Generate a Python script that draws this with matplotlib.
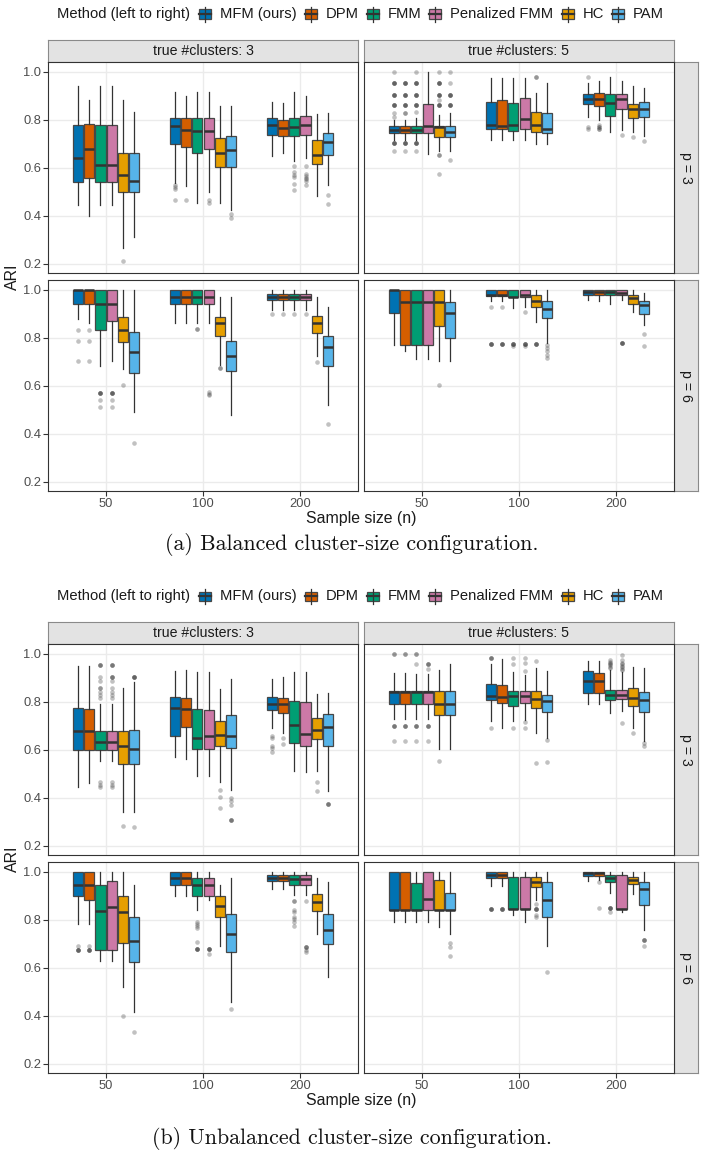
import matplotlib
matplotlib.use("Agg")
import matplotlib.pyplot as plt
from matplotlib.patches import Rectangle
from matplotlib.lines import Line2D

plt.rcParams['font.family'] = ['Liberation Sans', 'DejaVu Sans']

# ---------------- data ----------------
methods = ["MFM (ours)", "DPM", "FMM", "Penalized FMM", "HC", "PAM"]
colors = ["#0072B2", "#D55E00", "#009E73", "#CC79A7", "#E69F00", "#56B4E9"]
sizes = ["50", "100", "200"]
y_ticks = [0.2, 0.4, 0.6, 0.8, 1.0]

# each row: (lower whisker, q1, median, q3, upper whisker); n=50 x6, n=100 x6, n=200 x6
# fliers keyed by (sample size index, method index); repeats = overlapping points

# (a) balanced, true clusters 3, p = 3
bal_k3_p3 = [
    (0.443, 0.539, 0.641, 0.777, 0.940), (0.400, 0.559, 0.680, 0.782, 0.883),
    (0.443, 0.539, 0.610, 0.777, 0.940), (0.443, 0.539, 0.610, 0.777, 0.940),
    (0.268, 0.498, 0.569, 0.660, 0.883), (0.310, 0.498, 0.546, 0.660, 0.833),
    (0.538, 0.698, 0.772, 0.808, 0.914), (0.524, 0.686, 0.758, 0.805, 0.897),
    (0.455, 0.660, 0.751, 0.805, 0.914), (0.500, 0.676, 0.752, 0.805, 0.914),
    (0.455, 0.603, 0.663, 0.723, 0.857), (0.423, 0.603, 0.673, 0.730, 0.857),
    (0.649, 0.738, 0.776, 0.808, 0.873), (0.662, 0.733, 0.765, 0.797, 0.869),
    (0.627, 0.730, 0.770, 0.808, 0.914), (0.641, 0.736, 0.777, 0.816, 0.897),
    (0.482, 0.615, 0.652, 0.715, 0.823), (0.530, 0.654, 0.708, 0.744, 0.829),
]
bal_k3_p3_out = {
    (0, 4): [0.211],
    (1, 0): [0.527, 0.520, 0.510, 0.464], (1, 1): [0.464],
    (1, 3): [0.464, 0.455], (1, 5): [0.409, 0.390],
    (2, 2): [0.609, 0.583, 0.569, 0.560, 0.533, 0.509],
    (2, 3): [0.608, 0.574, 0.566, 0.559, 0.552, 0.544, 0.527],
    (2, 5): [0.485, 0.449],
}

# (a) balanced, true clusters 5, p = 3
bal_k5_p3 = [
    (0.717, 0.745, 0.757, 0.773, 0.798), (0.717, 0.745, 0.757, 0.773, 0.798),
    (0.717, 0.745, 0.757, 0.773, 0.808), (0.659, 0.745, 0.773, 0.864, 1.000),
    (0.670, 0.726, 0.770, 0.773, 0.818), (0.670, 0.726, 0.749, 0.773, 0.829),
    (0.715, 0.763, 0.777, 0.875, 0.975), (0.715, 0.763, 0.773, 0.882, 0.975),
    (0.715, 0.754, 0.777, 0.871, 0.975), (0.715, 0.763, 0.801, 0.889, 0.975),
    (0.697, 0.750, 0.777, 0.830, 0.910), (0.698, 0.744, 0.763, 0.829, 0.951),
    (0.812, 0.865, 0.885, 0.905, 0.951), (0.798, 0.858, 0.885, 0.910, 0.962),
    (0.750, 0.816, 0.868, 0.905, 0.976), (0.757, 0.843, 0.886, 0.908, 0.962),
    (0.747, 0.809, 0.844, 0.865, 0.940), (0.733, 0.812, 0.844, 0.875, 0.930),
]
bal_k5_p3_out = {
    (0, 0): [1.0] + [0.951] * 4 + [0.901] * 4 + [0.861] * 4 + [0.826, 0.812] + [0.704] * 4 + [0.670],
    (0, 1): [0.951] * 4 + [0.901] * 4 + [0.861] * 4 + [0.826] * 2 + [0.704] * 4 + [0.670],
    (0, 2): [1.0] + [0.951] * 4 + [0.901] * 4 + [0.861] * 4 + [0.830] + [0.704] * 4 + [0.670],
    (0, 4): [1.0] + [0.951] * 4 + [0.901] * 4 + [0.880] + [0.861] * 4 + [0.652] * 2 + [0.576],
    (0, 5): [1.0, 0.951] + [0.901] * 4 + [0.861] * 4 + [0.634],
    (1, 4): [0.976] * 2,
    (2, 0): [0.976, 0.770, 0.760],
    (2, 1): [0.777, 0.770, 0.770, 0.760, 0.760],
    (2, 3): [0.736], (2, 4): [0.726], (2, 5): [0.712],
}

# (a) balanced, true clusters 3, p = 6
bal_k3_p6 = [
    (0.878, 0.940, 1.000, 1.000, 1.000), (0.862, 0.940, 1.000, 1.000, 1.000),
    (0.683, 0.833, 0.940, 1.000, 1.000), (0.704, 0.871, 0.940, 1.000, 1.000),
    (0.671, 0.782, 0.833, 0.885, 1.000), (0.489, 0.651, 0.740, 0.824, 1.000),
    (0.861, 0.940, 0.971, 1.000, 1.000), (0.861, 0.940, 0.971, 1.000, 1.000),
    (0.861, 0.940, 0.971, 1.000, 1.000), (0.861, 0.940, 0.971, 1.000, 1.000),
    (0.688, 0.806, 0.860, 0.885, 0.968), (0.479, 0.660, 0.725, 0.787, 0.968),
    (0.917, 0.956, 0.971, 0.983, 1.000), (0.917, 0.956, 0.971, 0.983, 1.000),
    (0.917, 0.956, 0.971, 0.983, 1.000), (0.917, 0.956, 0.971, 0.983, 1.000),
    (0.722, 0.819, 0.860, 0.889, 0.968), (0.521, 0.681, 0.760, 0.806, 0.926),
]
bal_k3_p6_out = {
    (0, 0): [0.833, 0.785, 0.704], (0, 1): [0.833, 0.785, 0.704],
    (0, 2): [0.569] * 4 + [0.539, 0.511], (0, 3): [0.569] * 4 + [0.539, 0.511],
    (0, 4): [0.604], (0, 5): [0.361],
    (1, 2): [0.836] * 2, (1, 3): [0.576, 0.567, 0.560], (1, 4): [0.674] * 2,
    (2, 0): [0.900], (2, 1): [0.900], (2, 2): [0.900], (2, 3): [0.900],
    (2, 4): [0.699], (2, 5): [0.442],
}

# (a) balanced, true clusters 5, p = 6
bal_k5_p6 = [
    (0.768, 0.901, 1.000, 1.000, 1.000), (0.743, 0.768, 0.949, 1.000, 1.000),
    (0.711, 0.768, 0.949, 1.000, 1.000), (0.711, 0.768, 0.949, 1.000, 1.000),
    (0.704, 0.847, 0.949, 1.000, 1.000), (0.704, 0.799, 0.901, 0.949, 1.000),
    (0.951, 0.972, 0.976, 1.000, 1.000), (0.951, 0.972, 0.976, 1.000, 1.000),
    (0.924, 0.968, 0.971, 1.000, 1.000), (0.928, 0.968, 0.976, 1.000, 1.000),
    (0.864, 0.926, 0.951, 0.976, 1.000), (0.778, 0.882, 0.918, 0.951, 1.000),
    (0.956, 0.976, 0.989, 1.000, 1.000), (0.951, 0.976, 0.989, 1.000, 1.000),
    (0.940, 0.976, 0.989, 1.000, 1.000), (0.956, 0.976, 0.987, 1.000, 1.000),
    (0.907, 0.940, 0.965, 0.976, 1.000), (0.854, 0.899, 0.938, 0.953, 0.986),
]
bal_k5_p6_out = {
    (0, 4): [0.604],
    (1, 0): [0.928] + [0.775] * 4, (1, 1): [0.928] + [0.775] * 4,
    (1, 2): [0.775] * 4 + [0.764], (1, 3): [0.906] + [0.775] * 4 + [0.764],
    (1, 4): [0.775] * 4, (1, 5): [0.771, 0.757, 0.743, 0.729, 0.715],
    (2, 3): [0.778] * 4, (2, 5): [0.815, 0.765],
}

# (b) unbalanced, true clusters 3, p = 3
unb_k3_p3 = [
    (0.443, 0.601, 0.680, 0.775, 0.949), (0.462, 0.601, 0.680, 0.770, 0.949),
    (0.552, 0.601, 0.631, 0.677, 0.789), (0.552, 0.601, 0.631, 0.677, 0.789),
    (0.339, 0.541, 0.615, 0.677, 0.857), (0.342, 0.541, 0.603, 0.683, 0.882),
    (0.569, 0.656, 0.775, 0.819, 0.926), (0.562, 0.694, 0.770, 0.815, 0.933),
    (0.492, 0.603, 0.649, 0.768, 0.923), (0.492, 0.603, 0.659, 0.766, 0.923),
    (0.467, 0.615, 0.662, 0.718, 0.851), (0.432, 0.608, 0.658, 0.743, 0.893),
    (0.690, 0.766, 0.791, 0.819, 0.893), (0.670, 0.754, 0.789, 0.815, 0.903),
    (0.513, 0.627, 0.705, 0.801, 0.923), (0.506, 0.615, 0.666, 0.798, 0.923),
    (0.513, 0.645, 0.684, 0.731, 0.833), (0.430, 0.615, 0.693, 0.747, 0.836),
]
unb_k3_p3_out = {
    (0, 2): [0.951] * 3 + [0.903, 0.885, 0.857, 0.857, 0.840, 0.826, 0.815, 0.467, 0.454, 0.443],
    (0, 3): [0.951] * 3 + [0.903] * 3 + [0.885, 0.857, 0.840, 0.826, 0.815, 0.467, 0.454, 0.443],
    (0, 4): [0.283], (0, 5): [0.903] * 4 + [0.277],
    (1, 4): [0.434, 0.402, 0.356], (1, 5): [0.398, 0.385, 0.370] + [0.307] * 3,
    (2, 0): [0.659, 0.649, 0.615, 0.606, 0.590], (2, 1): [0.648, 0.624],
    (2, 4): [0.467, 0.427], (2, 5): [0.374] * 3,
}

# (b) unbalanced, true clusters 5, p = 3
unb_k5_p3 = [
    (0.726, 0.789, 0.840, 0.843, 0.919), (0.726, 0.789, 0.840, 0.843, 0.919),
    (0.726, 0.789, 0.840, 0.843, 0.917), (0.726, 0.789, 0.840, 0.843, 0.917),
    (0.603, 0.743, 0.791, 0.843, 0.933), (0.603, 0.743, 0.789, 0.843, 0.958),
    (0.719, 0.805, 0.822, 0.872, 0.958), (0.690, 0.795, 0.819, 0.868, 0.979),
    (0.718, 0.784, 0.822, 0.844, 0.923), (0.722, 0.795, 0.823, 0.844, 0.910),
    (0.669, 0.773, 0.812, 0.844, 0.940), (0.649, 0.757, 0.801, 0.826, 0.926),
    (0.789, 0.836, 0.887, 0.926, 0.968), (0.791, 0.836, 0.887, 0.918, 0.968),
    (0.754, 0.809, 0.829, 0.847, 0.930), (0.763, 0.812, 0.829, 0.847, 0.923),
    (0.691, 0.780, 0.816, 0.855, 0.944), (0.638, 0.757, 0.805, 0.840, 0.940),
]
unb_k5_p3_out = {
    (0, 0): [1.0] * 2 + [0.698] * 3 + [0.638], (0, 1): [1.0] * 2 + [0.698] * 3 + [0.638],
    (0, 2): [1.0] * 2 + [0.958] + [0.698] * 3 + [0.638],
    (0, 3): [0.958] * 3 + [0.937] + [0.698] * 3 + [0.638],
    (0, 4): [0.553],
    (1, 0): [0.982] * 3 + [0.690], (1, 2): [0.982, 0.958, 0.690],
    (1, 3): [0.982, 0.960, 0.926, 0.715, 0.690], (1, 4): [0.969, 0.545],
    (1, 5): [0.642, 0.551],
    (2, 2): [0.972, 0.966, 0.962, 0.955, 0.951, 0.945, 0.940],
    (2, 3): [0.993, 0.972, 0.962, 0.955, 0.948, 0.944, 0.937, 0.930, 0.711],
    (2, 4): [0.669], (2, 5): [0.628, 0.615],
}

# (b) unbalanced, true clusters 3, p = 6
unb_k3_p6 = [
    (0.782, 0.897, 0.946, 1.000, 1.000), (0.782, 0.882, 0.946, 1.000, 1.000),
    (0.626, 0.674, 0.838, 0.946, 1.000), (0.626, 0.674, 0.854, 0.961, 1.000),
    (0.519, 0.702, 0.831, 0.897, 1.000), (0.415, 0.623, 0.713, 0.813, 0.946),
    (0.900, 0.946, 0.972, 1.000, 1.000), (0.900, 0.946, 0.972, 1.000, 1.000),
    (0.842, 0.897, 0.946, 0.972, 1.000), (0.882, 0.897, 0.946, 0.972, 1.000),
    (0.692, 0.813, 0.856, 0.900, 0.946), (0.456, 0.667, 0.742, 0.824, 0.972),
    (0.928, 0.961, 0.972, 0.986, 1.000), (0.928, 0.961, 0.972, 0.986, 1.000),
    (0.903, 0.946, 0.969, 0.986, 1.000), (0.903, 0.946, 0.969, 0.986, 1.000),
    (0.741, 0.838, 0.872, 0.907, 0.972), (0.560, 0.699, 0.755, 0.824, 0.956),
]
unb_k3_p6_out = {
    (0, 0): [0.689] + [0.675] * 4, (0, 1): [0.689] + [0.675] * 4,
    (0, 4): [0.400], (0, 5): [0.332],
    (1, 2): [0.792, 0.782, 0.773, 0.764, 0.706] + [0.678] * 4,
    (1, 3): [0.678] * 4 + [0.656], (1, 5): [0.427],
    (2, 2): [0.879, 0.879, 0.842, 0.834, 0.813, 0.803, 0.789, 0.775],
    (2, 3): [0.879] + [0.685] * 3 + [0.675, 0.667],
}

# (b) unbalanced, true clusters 5, p = 6
unb_k5_p6 = [
    (0.789, 0.841, 0.841, 1.000, 1.000), (0.789, 0.841, 0.841, 1.000, 1.000),
    (0.789, 0.841, 0.841, 0.953, 1.000), (0.789, 0.841, 0.886, 1.000, 1.000),
    (0.768, 0.841, 0.841, 0.967, 1.000), (0.739, 0.841, 0.841, 0.911, 1.000),
    (0.939, 0.974, 0.986, 1.000, 1.000), (0.939, 0.974, 0.986, 1.000, 1.000),
    (0.820, 0.845, 0.845, 0.976, 1.000), (0.789, 0.845, 0.845, 0.976, 1.000),
    (0.882, 0.935, 0.956, 0.976, 1.000), (0.689, 0.810, 0.882, 0.956, 1.000),
    (0.960, 0.981, 0.994, 1.000, 1.000), (0.967, 0.981, 0.994, 1.000, 1.000),
    (0.911, 0.956, 0.972, 0.986, 1.000), (0.834, 0.845, 0.845, 0.986, 1.000),
    (0.907, 0.947, 0.967, 0.976, 1.000), (0.759, 0.863, 0.928, 0.956, 1.000),
]
unb_k5_p6_out = {
    (0, 5): [0.702, 0.685, 0.648],
    (1, 0): [0.845] * 4, (1, 1): [0.845] * 4,
    (1, 4): [0.866] + [0.845] * 4 + [0.820, 0.810], (1, 5): [0.581],
    (2, 1): [0.958, 0.847], (2, 2): [0.847] * 4 + [0.834],
    (2, 5): [0.716] * 3 + [0.689],
}

panels = [
    ("(a) Balanced cluster-size configuration.",
     [[(bal_k3_p3, bal_k3_p3_out), (bal_k5_p3, bal_k5_p3_out)],
      [(bal_k3_p6, bal_k3_p6_out), (bal_k5_p6, bal_k5_p6_out)]]),
    ("(b) Unbalanced cluster-size configuration.",
     [[(unb_k3_p3, unb_k3_p3_out), (unb_k5_p3, unb_k5_p3_out)],
      [(unb_k3_p6, unb_k3_p6_out), (unb_k5_p6, unb_k5_p6_out)]]),
]
col_labels = ["true #clusters: 3", "true #clusters: 5"]
row_labels = ["p = 3", "p = 6"]

# ---------------- layout (pixels) ----------------
W, H = 704, 1158
fig = plt.figure(figsize=(W / 100, H / 100), dpi=100)

slot = 0.7 / 6
box_w = slot * 0.9
dark = "#333333"


def px_axes(x0, y0, x1, y1):
    return fig.add_axes([x0 / W, 1 - y1 / H, (x1 - x0) / W, (y1 - y0) / H])


def fig_text(x, y, s, **kw):
    return fig.text(x / W, 1 - y / H, s, **kw)


def draw_facet(ax, boxes, fliers, show_x, show_y):
    stats, pos, cols = [], [], []
    for k, (lo, q1, med, q3, hi) in enumerate(boxes):
        i, j = divmod(k, 6)
        stats.append(dict(whislo=lo, q1=q1, med=med, q3=q3, whishi=hi,
                          fliers=fliers.get((i, j), [])))
        pos.append(i + (j - 2.5) * slot)
        cols.append(colors[j])
    art = ax.bxp(stats, positions=pos, widths=box_w, patch_artist=True,
                 showcaps=False, manage_ticks=False,
                 boxprops=dict(edgecolor="#474747", linewidth=0.9),
                 medianprops=dict(color=dark, linewidth=1.8, solid_capstyle="butt"),
                 whiskerprops=dict(color=dark, linewidth=0.9),
                 flierprops=dict(marker="o", markerfacecolor=dark,
                                 markeredgecolor="none", markersize=3.3, alpha=0.3))
    for patch, c in zip(art["boxes"], cols):
        patch.set_facecolor(c)
    ax.set_xlim(-0.6, 2.6)
    ax.set_ylim(0.162, 1.04)
    ax.set_xticks(range(len(sizes)))
    ax.set_xticklabels(sizes)
    ax.set_yticks(y_ticks)
    ax.set_yticklabels([f"{v:.1f}" for v in y_ticks])
    ax.set_axisbelow(True)
    ax.grid(True, color="#ebebeb", linewidth=1.0)
    for s in ax.spines.values():
        s.set_color(dark)
        s.set_linewidth(0.8)
    ax.tick_params(length=3.5, width=0.8, color=dark, labelcolor="#4d4d4d",
                   labelsize=9.3, pad=1.5)
    if not show_x:
        ax.tick_params(axis="x", length=0, labelbottom=False)
    if not show_y:
        ax.tick_params(axis="y", length=0, labelleft=False)


def strip(x0, y0, x1, y1, label, rotation=0):
    sa = px_axes(x0, y0, x1, y1)
    sa.set_facecolor("#e3e3e3")
    sa.set_xticks([])
    sa.set_yticks([])
    for s in sa.spines.values():
        s.set_color("#8a8a8a")
        s.set_linewidth(0.8)
    sa.text(0.5, 0.5, label, transform=sa.transAxes, ha="center", va="center",
            rotation=rotation, fontsize=10.2, color="#1a1a1a")


def legend(yc):
    renderer = fig.canvas.get_renderer()
    x = 57
    t = fig_text(x, yc, "Method (left to right)", fontsize=10.6, va="center",
                 ha="left", color="#1a1a1a")
    x = t.get_window_extent(renderer).x1 + 9
    for name, c in zip(methods, colors):
        kx, kw, kh = x, 12, 9
        fig.add_artist(Line2D([(kx + kw / 2) / W] * 2,
                              [1 - (yc - 7.5) / H, 1 - (yc + 7.5) / H],
                              transform=fig.transFigure, color=dark, lw=0.9))
        fig.add_artist(Rectangle((kx / W, 1 - (yc + kh / 2) / H), kw / W, kh / H,
                                 transform=fig.transFigure, facecolor=c,
                                 edgecolor="#474747", lw=0.9))
        fig.add_artist(Line2D([kx / W, (kx + kw) / W], [1 - yc / H] * 2,
                              transform=fig.transFigure, color=dark, lw=1.6))
        t = fig_text(kx + kw + 9, yc, name, fontsize=10.6, va="center",
                     ha="left", color="#1a1a1a")
        x = t.get_window_extent(renderer).x1 + 8


cols_x = [(48, 358), (364, 674)]
for p, (caption, grid) in enumerate(panels):
    off = 582 * p
    rows_y = [(62 + off, 273 + off), (280 + off, 491 + off)]
    legend(14 + off)
    for c, (x0, x1) in enumerate(cols_x):
        strip(x0, 40 + off, x1, 62 + off, col_labels[c])
    for r, (y0, y1) in enumerate(rows_y):
        strip(674, y0, 698, y1, row_labels[r], rotation=-90)
        for c, (x0, x1) in enumerate(cols_x):
            ax = px_axes(x0, y0, x1, y1)
            boxes, fl = grid[r][c]
            draw_facet(ax, boxes, fl, show_x=(r == 1), show_y=(c == 0))
    fig_text(12, (62 + 491) / 2 + off, "ARI", rotation=90, fontsize=11.4,
             ha="center", va="center", color="#1a1a1a")
    fig_text(361, 518 + off, "Sample size (n)", fontsize=11.4, ha="center",
             va="center", color="#1a1a1a")
    fig_text(352, 545 + 594 * p, caption, fontsize=15.8, ha="center",
             va="center", family=["cmr10", "DejaVu Serif"], color="#111111")

fig.savefig("out.png", dpi=100)
